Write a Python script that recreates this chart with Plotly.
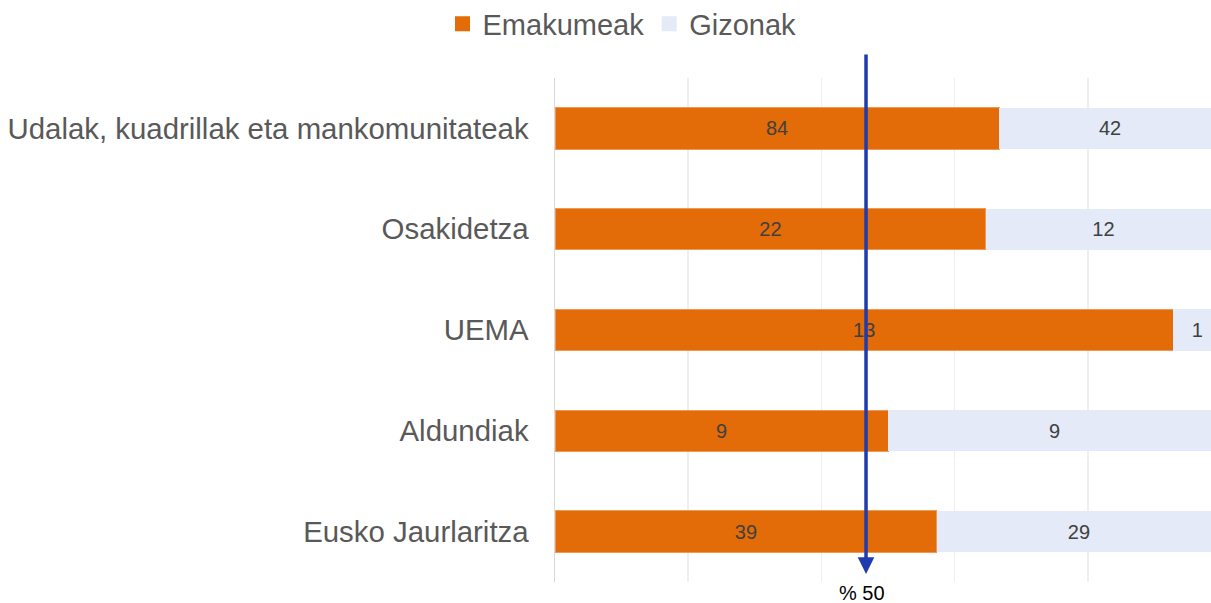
import plotly.graph_objects as go

categories = ["Udalak, kuadrillak eta mankomunitateak", "Osakidetza", "UEMA", "Aldundiak", "Eusko Jaurlaritza"]
emakumeak = [84, 22, 13, 9, 39]
gizonak = [42, 12, 1, 9, 29]
series_names = ["Emakumeak", "Gizonak"]
series_colors = ["#E36C09", "#E4EAF7"]
ref_label = "% 50"
ref_value = 0.467  # position of the drawn reference arrow (as share)

tot = [a + b for a, b in zip(emakumeak, gizonak)]
sh_e = [a / t for a, t in zip(emakumeak, tot)]
sh_g = [b / t for b, t in zip(gizonak, tot)]

W, H = 1211, 603
L, R, T, B = 555, 0, 78, 21
plot_w = W - L - R
unit_px = 666.0
xmax = plot_w / unit_px

label_font = dict(family="Liberation Sans, Arial", size=20, color="#404040")

fig = go.Figure()
fig.add_trace(go.Bar(
    y=categories, x=sh_e, orientation="h", name=series_names[0],
    marker=dict(color=series_colors[0], line=dict(color="#EE9A55", width=1)),
    text=[str(v) for v in emakumeak], textposition="inside", insidetextanchor="middle",
    textfont=label_font, constraintext="none",
    width=0.41, hoverinfo="skip", showlegend=False,
))
fig.add_trace(go.Bar(
    y=categories, x=sh_g, orientation="h", name=series_names[1],
    marker=dict(color=series_colors[1], line=dict(color=series_colors[1], width=0)),
    text=[str(v) for v in gizonak], textposition="inside", insidetextanchor="middle",
    textfont=label_font, constraintext="none",
    width=0.41, hoverinfo="skip", showlegend=False,
))
# legend entries (square swatches)
for name, col in zip(series_names, series_colors):
    fig.add_trace(go.Scatter(
        x=[None], y=[None], mode="markers", name=name,
        marker=dict(symbol="square", size=15, color=col, line=dict(width=0)),
        showlegend=True, hoverinfo="skip",
    ))

fig.update_layout(
    barmode="stack",
    width=W, height=H,
    margin=dict(l=L, r=R, t=T, b=B, pad=0),
    paper_bgcolor="white", plot_bgcolor="white",
    font=dict(family="Liberation Sans, Arial", color="#595959"),
    legend=dict(
        orientation="h", xref="container", yref="container",
        x=622 / W, xanchor="center", y=1 - 24 / H, yanchor="middle",
        font=dict(size=29, color="#595959"), traceorder="normal",
        itemwidth=30,
    ),
    xaxis=dict(
        range=[0, xmax], tickvals=[0.2, 0.4, 0.6, 0.8], showticklabels=False,
        showgrid=True, gridcolor="#EFEFEF", gridwidth=1.5,
        zeroline=False, showline=False, fixedrange=True,
    ),
    yaxis=dict(
        categoryorder="array", categoryarray=categories[::-1],
        tickfont=dict(size=29.4, color="#595959"), ticks="", ticklabelstandoff=19,
        showline=True, linecolor="#D9D9D9", linewidth=1.5, showgrid=False,
        fixedrange=True,
    ),
    showlegend=True,
)

plot_h = H - T - B
tip_px = 574
top_px = 53
fig.add_annotation(
    x=ref_value, xref="x", y=(H - B - tip_px) / plot_h, yref="paper",
    ax=0, ay=-(tip_px - top_px), axref="pixel", ayref="pixel",
    showarrow=True, arrowhead=2, arrowsize=0.95, arrowwidth=3.5,
    arrowcolor="#1F3BAE", text="",
)
fig.add_annotation(
    x=ref_value - 0.006, xref="x", y=(H - B - 593) / plot_h, yref="paper",
    text=ref_label, showarrow=False, xanchor="center", yanchor="middle",
    font=dict(family="Liberation Sans, Arial", size=20, color="#000000"),
)

fig.write_html(
    "out.html",
    config={"displayModeBar": False, "staticPlot": True},
    post_script="document.body.style.margin='0';document.body.style.overflow='hidden';",
)
